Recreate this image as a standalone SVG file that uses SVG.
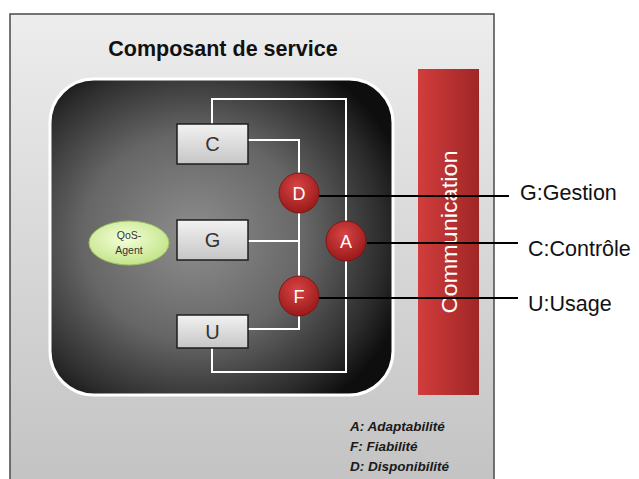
<svg xmlns="http://www.w3.org/2000/svg" width="639" height="479" viewBox="0 0 639 479">
<defs>
<linearGradient id="bgG" x1="0" y1="0" x2="0" y2="1"><stop offset="0" stop-color="#ededed"/><stop offset="1" stop-color="#c2c2c2"/></linearGradient>
<radialGradient id="darkG" cx="0.42" cy="0.5" r="0.65"><stop offset="0" stop-color="#8e8e8e"/><stop offset="0.5" stop-color="#666666"/><stop offset="0.85" stop-color="#2c2c2c"/><stop offset="1" stop-color="#0e0e0e"/></radialGradient>
<linearGradient id="barG" x1="0" y1="0" x2="1" y2="0"><stop offset="0" stop-color="#d23d3d"/><stop offset="1" stop-color="#a02626"/></linearGradient>
<linearGradient id="boxG" x1="0" y1="0" x2="0" y2="1"><stop offset="0" stop-color="#f2f2f2"/><stop offset="1" stop-color="#c6c6c6"/></linearGradient>
<radialGradient id="circG" cx="0.45" cy="0.35" r="0.65"><stop offset="0" stop-color="#d94444"/><stop offset="1" stop-color="#9a1a1a"/></radialGradient>
<radialGradient id="qosG" cx="0.45" cy="0.4" r="0.6"><stop offset="0" stop-color="#f4ffd8"/><stop offset="1" stop-color="#c4e48a"/></radialGradient>
<style>
.box{fill:url(#boxG);stroke:#1e1e1e;stroke-width:1.5}
.blab{font-family:"Liberation Sans",Arial,sans-serif;font-size:20px;fill:#333;text-anchor:middle}
.wl{fill:none;stroke:#ffffff;stroke-width:2}
.bl{fill:none;stroke:#000;stroke-width:2}
.circ{fill:url(#circG);stroke:#7a1010;stroke-width:0.8}
.clab{font-family:"Liberation Sans",Arial,sans-serif;font-size:18px;fill:#fff;text-anchor:middle}
.rlab{font-family:"Liberation Sans",Arial,sans-serif;font-size:21.5px;fill:#111}
.leg{font-family:"Liberation Sans",Arial,sans-serif;font-size:13.5px;font-weight:bold;font-style:italic;fill:#1a1a1a}
</style>
</defs>
<g id="background">
<rect x="10" y="14" width="484" height="480" fill="url(#bgG)" stroke="#4a4a4a" stroke-width="1.5"/>
<text x="223" y="56" font-family="'Liberation Sans',Arial,sans-serif" font-size="21.5" font-weight="bold" fill="#111" text-anchor="middle">Composant de service</text>
</g>
<g id="container">
<rect x="50" y="79" width="343" height="316" rx="44" ry="44" fill="url(#darkG)" stroke="#ffffff" stroke-width="3"/>
</g>
<g id="communication">
<rect x="418" y="69" width="61" height="326" fill="url(#barG)"/>
<text transform="translate(457,232) rotate(-90)" font-family="'Liberation Sans',Arial,sans-serif" font-size="22" fill="#fff" text-anchor="middle" textLength="163" lengthAdjust="spacingAndGlyphs">Communication</text>
</g>
<g id="connectors">
<path class="wl" d="M212,125 V99 H346 V221"/>
<path class="wl" d="M346,261 V372 H212 V348"/>
<path class="wl" d="M248,140 H299 V173"/>
<path class="wl" d="M299,213 V276"/>
<path class="wl" d="M248,241 H299"/>
<path class="wl" d="M299,316 V329 H248"/>
<path class="bl" d="M319,196 H509"/>
<path class="bl" d="M367,243 H518"/>
<path class="bl" d="M319,298 H518"/>
</g>
<g id="node-C"><rect class="box" x="177" y="124" width="71" height="40"/><text class="blab" x="212.5" y="151">C</text></g>
<g id="node-G"><rect class="box" x="177" y="220" width="71" height="40"/><text class="blab" x="212.5" y="247">G</text></g>
<g id="node-U"><rect class="box" x="177" y="315" width="71" height="33"/><text class="blab" x="212.5" y="339">U</text></g>
<g id="node-D"><circle class="circ" cx="299" cy="193" r="20"/><text class="clab" x="299" y="199.5">D</text></g>
<g id="node-A"><circle class="circ" cx="346" cy="241" r="20"/><text class="clab" x="346" y="247.5">A</text></g>
<g id="node-F"><circle class="circ" cx="299" cy="296" r="20"/><text class="clab" x="299" y="302.5">F</text></g>
<g id="node-qos">
<ellipse cx="129" cy="243" rx="40" ry="22" fill="url(#qosG)" stroke="#9cc25e" stroke-width="1"/>
<text x="129" y="239" font-family="'Liberation Sans',Arial,sans-serif" font-size="10.5" fill="#333" text-anchor="middle">QoS-</text>
<text x="129" y="254" font-family="'Liberation Sans',Arial,sans-serif" font-size="10.5" fill="#333" text-anchor="middle">Agent</text>
</g>
<g id="labels">
<text class="rlab" x="520" y="200">G:Gestion</text>
<text class="rlab" x="528" y="256">C:Contrôle</text>
<text class="rlab" x="528" y="311">U:Usage</text>
</g>
<g id="legend">
<text class="leg" x="350" y="431">A: Adaptabilité</text>
<text class="leg" x="350" y="451">F: Fiabilité</text>
<text class="leg" x="350" y="471">D: Disponibilité</text>
</g>
</svg>
